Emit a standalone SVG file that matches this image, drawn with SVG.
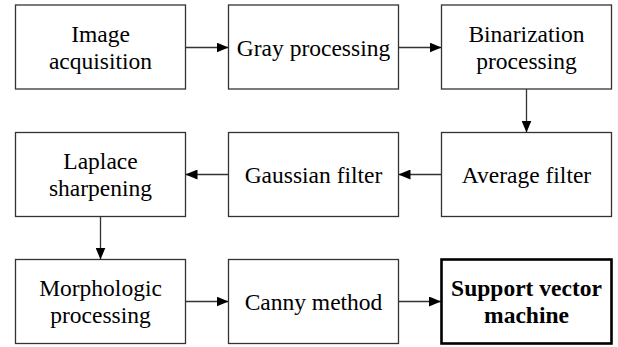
<svg xmlns="http://www.w3.org/2000/svg" width="618" height="347" viewBox="0 0 618 347">
<defs>
<marker id="ah" markerUnits="userSpaceOnUse" markerWidth="12" markerHeight="10" refX="12" refY="5" orient="auto">
<path d="M0,0 L12,5 L0,10 Z" fill="#000"/>
</marker>
</defs>
<rect width="618" height="347" fill="#fff"/>
<g id="connectors" stroke="#333" stroke-width="1.3" fill="none" marker-end="url(#ah)">
<line x1="185.5" y1="47.5" x2="228.5" y2="47.5"/>
<line x1="398.5" y1="47.5" x2="441.5" y2="47.5"/>
<line x1="526.5" y1="89" x2="526.5" y2="132.5"/>
<line x1="441.5" y1="174.5" x2="398.5" y2="174.5"/>
<line x1="228.5" y1="174.5" x2="185.5" y2="174.5"/>
<line x1="100.5" y1="216.5" x2="100.5" y2="259.5"/>
<line x1="185.5" y1="301.5" x2="228.5" y2="301.5"/>
<line x1="398.5" y1="301.5" x2="441" y2="301.5"/>
</g>
<g id="image-acquisition">
<rect x="15.5" y="5" width="170" height="84" fill="#fff" stroke="#333" stroke-width="1.3"/>
<text x="100.5" y="41.5" style="font-family:'Liberation Serif',serif;font-size:23.5px" text-anchor="middle">Image</text>
<text x="100.5" y="68.5" style="font-family:'Liberation Serif',serif;font-size:23.5px" text-anchor="middle">acquisition</text>
</g>
<g id="gray-processing">
<rect x="228.5" y="5" width="170" height="84" fill="#fff" stroke="#333" stroke-width="1.3"/>
<text x="313.5" y="56" style="font-family:'Liberation Serif',serif;font-size:23.5px" text-anchor="middle">Gray processing</text>
</g>
<g id="binarization-processing">
<rect x="441.5" y="5" width="170" height="84" fill="#fff" stroke="#333" stroke-width="1.3"/>
<text x="526.5" y="41.5" style="font-family:'Liberation Serif',serif;font-size:23.5px" text-anchor="middle">Binarization</text>
<text x="526.5" y="68.5" style="font-family:'Liberation Serif',serif;font-size:23.5px" text-anchor="middle">processing</text>
</g>
<g id="average-filter">
<rect x="441.5" y="132.5" width="170" height="84" fill="#fff" stroke="#333" stroke-width="1.3"/>
<text x="526.5" y="183" style="font-family:'Liberation Serif',serif;font-size:23.5px" text-anchor="middle">Average filter</text>
</g>
<g id="gaussian-filter">
<rect x="228.5" y="132.5" width="170" height="84" fill="#fff" stroke="#333" stroke-width="1.3"/>
<text x="313.5" y="183" style="font-family:'Liberation Serif',serif;font-size:23.5px" text-anchor="middle">Gaussian filter</text>
</g>
<g id="laplace-sharpening">
<rect x="15.5" y="132.5" width="170" height="84" fill="#fff" stroke="#333" stroke-width="1.3"/>
<text x="100.5" y="169" style="font-family:'Liberation Serif',serif;font-size:23.5px" text-anchor="middle">Laplace</text>
<text x="100.5" y="196" style="font-family:'Liberation Serif',serif;font-size:23.5px" text-anchor="middle">sharpening</text>
</g>
<g id="morphologic-processing">
<rect x="15.5" y="259.5" width="170" height="84" fill="#fff" stroke="#333" stroke-width="1.3"/>
<text x="100.5" y="296" style="font-family:'Liberation Serif',serif;font-size:23.5px" text-anchor="middle">Morphologic</text>
<text x="100.5" y="323" style="font-family:'Liberation Serif',serif;font-size:23.5px" text-anchor="middle">processing</text>
</g>
<g id="canny-method">
<rect x="228.5" y="259.5" width="170" height="84" fill="#fff" stroke="#333" stroke-width="1.3"/>
<text x="313.5" y="310" style="font-family:'Liberation Serif',serif;font-size:23.5px" text-anchor="middle">Canny method</text>
</g>
<g id="support-vector-machine">
<rect x="441.5" y="259.5" width="170" height="84" fill="#fff" stroke="#000" stroke-width="2.6"/>
<text x="526.5" y="296" style="font-family:'Liberation Serif',serif;font-size:23.5px;font-weight:bold" text-anchor="middle">Support vector</text>
<text x="526.5" y="323" style="font-family:'Liberation Serif',serif;font-size:23.5px;font-weight:bold" text-anchor="middle">machine</text>
</g>
</svg>
